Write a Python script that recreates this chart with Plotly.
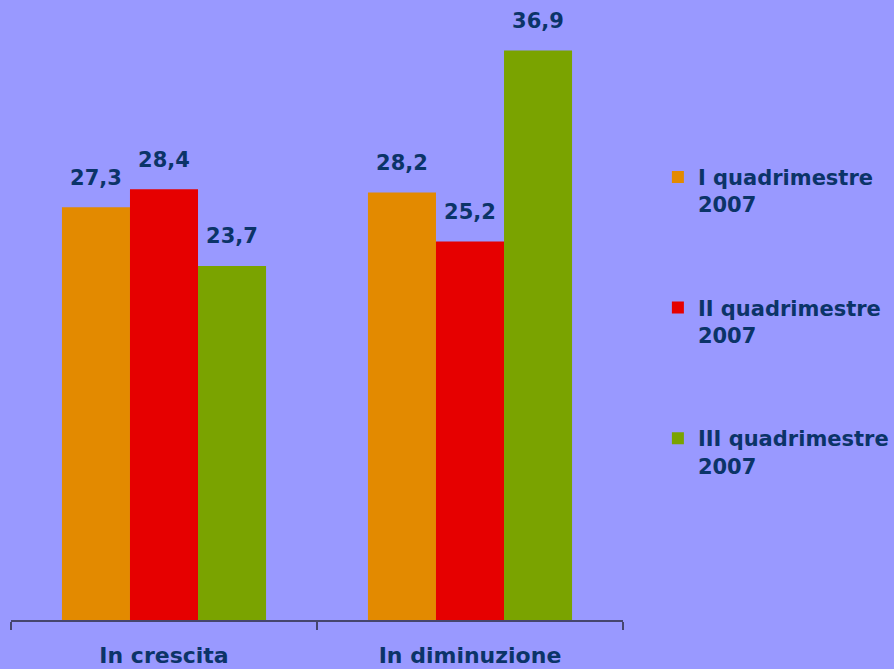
import plotly.graph_objects as go

categories = ["In crescita", "In diminuzione"]
series_names = ["I quadrimestre<br>2007", "II quadrimestre<br>2007", "III quadrimestre<br>2007"]
q1 = [27.3, 28.2]
q2 = [28.4, 25.2]
q3 = [23.7, 36.9]
series_values = [q1, q2, q3]
colors = ["#E38A00", "#E60000", "#7AA300"]

text_color = "#0B3468"
axis_color = "#46466E"
font_family = "DejaVu Sans"

fig = go.Figure()
for i, (name, vals, col) in enumerate(zip(series_names, series_values, colors)):
    fig.add_trace(go.Bar(
        x=categories, y=vals, name=name,
        marker=dict(color=col, line=dict(width=0)),
        legendgroup=f"g{i}",
        hoverinfo="skip",
    ))
for i, vals in enumerate(series_values):
    fig.add_trace(go.Scatter(
        x=categories, y=vals, mode="markers+text",
        marker=dict(size=26, opacity=0),
        texttemplate="%{y:.1f}", textposition="top center",
        textfont=dict(family=font_family, size=21, color=text_color, weight="bold"),
        showlegend=False, cliponaxis=False, hoverinfo="skip",
    ))

fig.update_layout(
    width=894, height=669,
    paper_bgcolor="#9999FF", plot_bgcolor="#9999FF",
    separators=",.",
    barmode="group", bargap=0.333, bargroupgap=0,
    scattermode="group", scattergap=0.333,
    margin=dict(l=11, r=271, t=0, b=49),
    xaxis=dict(
        showline=True, linecolor=axis_color, linewidth=2,
        ticks="outside", tickson="boundaries", ticklen=8, tickwidth=2, tickcolor=axis_color,
        tickfont=dict(family=font_family, size=22, color=text_color, weight="bold"),
        ticklabelstandoff=15, showgrid=False, zeroline=False,
    ),
    yaxis=dict(range=[2, 40], visible=False, showgrid=False),
    legend=dict(
        x=1.057, xanchor="left", y=0.747, yanchor="top",
        font=dict(family=font_family, size=21, color=text_color, weight="bold"),
        tracegroupgap=73, valign="top", bgcolor="rgba(0,0,0,0)",
        itemwidth=30,
    ),
    showlegend=True,
)

fig.write_html(
    "out.html",
    config={"displayModeBar": False},
    post_script="document.body.style.margin='0px';document.body.style.overflow='hidden';",
)
